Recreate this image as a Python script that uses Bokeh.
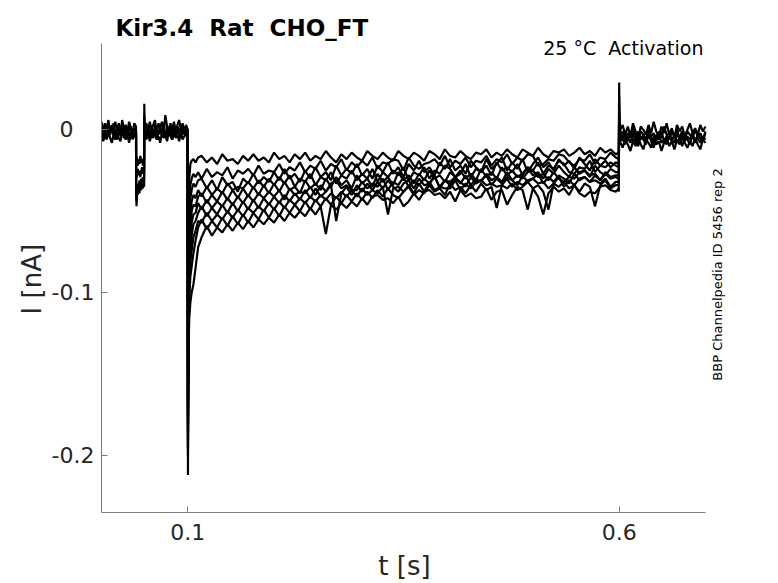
import numpy as np
from bokeh.plotting import figure
from bokeh.models import Range1d, FixedTicker, Label
from bokeh.embed import file_html
from bokeh.resources import INLINE

# ---------------- data (time in s, current in pA; divided by 1000 -> nA) ----------------
t_pre = ([round(0.002 * i, 4) for i in range(20)]
         + [0.0400, 0.0402, 0.0406, 0.0410, 0.0420, 0.0430, 0.0440, 0.0450,
            0.0460, 0.0470, 0.0480, 0.0490, 0.0494, 0.0496, 0.0500]
         + [round(0.052 + 0.002 * i, 4) for i in range(25)])

pre_1 = [5, -1, 4, 0, 6, -2, 3, 1, 5, -1, 4, -2, 6, 0, 3, -1, 5, 1, -2, 4,
         2, -15, -20, -17, -22, -18, -21, -16, -20, -18, -22, -17, -19, 16, 3,
         4, -1, 5, 0, 3, 6, -2, 4, 1, 5, -1, 9, 2, -2, 4, 0, 5, -1, 3, 6, 0, 4, -1, 3, 0]
pre_2 = [-3, 2, -2, 3, -4, 1, -1, 4, -3, 0, 2, -4, 1, -2, 3, -3, 0, 2, -4, 1,
         -1, -25, -30, -27, -24, -28, -25, -29, -26, -23, -27, -24, -26, 9, 0,
         -2, 2, -3, 1, -4, 3, -1, -3, 2, -2, 0, -4, 3, -1, 2, -3, 1, -4, 2, 0, -2, 3, -3, 1, 0]
pre_3 = [1, -4, 0, -5, -1, -3, 2, -4, -1, -6, 0, -3, 1, -5, -2, 0, -4, -1, -6, -2,
         -2, -35, -47, -38, -33, -36, -31, -34, -30, -33, -29, -32, -30, 5, -1,
         -4, 0, -5, -1, -3, 1, -6, -2, 0, -4, -1, -5, -2, 1, -3, -6, -1, -4, 0, -3, -5, -1, -2, -4, 0]
pre_4 = [-2, -7, -3, -6, -1, -5, -8, -3, -6, -2, -5, -7, -1, -4, -6, -3, -8, -2, -5, -4,
         -3, -40, -44, -36, -40, -35, -39, -34, -37, -33, -36, -32, -35, 3, -2,
         -6, -2, -7, -3, -5, -1, -6, -4, -8, -2, -5, -3, -7, -1, -4, -6, -2, -5, -3, -7, -2, -6, -4, -3, 0]

t_step = ([0.1000, 0.1002, 0.1005, 0.1010, 0.1018, 0.1030, 0.1045, 0.1065, 0.1090, 0.1120]
          + [round(0.116 + 0.006 * i, 4) for i in range(81)]
          + [0.5995])

step_1 = [0, -150, -100, -55, -30, -21, -19, -18, -20, -17,
          -16, -20, -17, -21, -15, -19, -18, -21, -16, -19,
          -15, -19, -17, -20, -14, -18, -16, -20, -15, -18,
          -14, -19, -16, -18, -13, -17, -20, -15, -18, -14,
          -17, -19, -13, -16, -18, -14, -17, -19, -13, -16,
          -18, -14, -16, -19, -13, -15, -18, -12, -16, -17,
          -13, -16, -18, -14, -15, -12, -17, -14, -16, -12,
          -15, -17, -12, -14, -16, -11, -15, -17, -13, -14,
          -12, -16, -14, -11, -15, -13, -16, -11, -14, -12, -15,
          -14]
step_2 = [0, -170, -120, -75, -45, -34, -30, -27, -29, -26,
          -30, -24, -29, -26, -28, -23, -30, -25, -27, -24,
          -28, -22, -27, -25, -26, -21, -27, -23, -25, -20,
          -26, -22, -24, -19, -25, -21, -23, -18, -25, -20,
          -23, -19, -22, -17, -24, -20, -21, -18, -19, -25,
          -17, -22, -24, -21, -20, -18, -22, -16, -23, -19,
          -21, -17, -23, -19, -20, -16, -22, -18, -20, -15,
          -21, -17, -19, -15, -16, -22, -21, -18, -19, -15,
          -16, -20, -22, -18, -19, -15, -21, -17, -18, -14, -17,
          -18]
step_3 = [0, -180, -130, -85, -55, -42, -37, -33, -35, -31,
          -30, -36, -31, -37, -29, -34, -32, -38, -30, -33,
          -27, -33, -29, -32, -26, -31, -24, -30, -27, -32,
          -25, -30, -23, -29, -26, -31, -22, -28, -24, -27,
          -21, -28, -24, -30, -22, -26, -20, -27, -23, -29,
          -21, -25, -19, -26, -23, -28, -20, -24, -18, -25,
          -22, -27, -19, -23, -26, -18, -24, -21, -17, -25,
          -20, -24, -18, -26, -21, -17, -23, -20, -25, -18,
          -22, -19, -24, -17, -21, -25, -18, -22, -19, -23, -20,
          -21]
step_4 = [0, -190, -140, -95, -65, -50, -44, -40, -42, -37,
          -41, -35, -40, -36, -39, -33, -37, -35, -36, -32,
          -36, -31, -35, -30, -34, -29, -33, -28, -35, -30,
          -32, -27, -34, -29, -31, -26, -33, -28, -30, -25,
          -31, -27, -30, -24, -32, -26, -29, -25, -28, -23,
          -31, -26, -28, -23, -30, -25, -27, -22, -24, -29,
          -27, -21, -29, -24, -26, -22, -28, -20, -25, -23,
          -26, -21, -28, -23, -25, -20, -27, -22, -24, -19,
          -21, -26, -27, -23, -24, -19, -26, -22, -23, -20, -22,
          -23]
step_5 = [0, -212, -150, -105, -75, -58, -50, -46, -47, -41,
          -39, -45, -40, -44, -38, -43, -37, -42, -36, -41,
          -35, -40, -34, -39, -33, -38, -32, -37, -35, -39,
          -31, -36, -33, -37, -30, -35, -29, -34, -31, -36,
          -28, -33, -30, -35, -27, -32, -29, -34, -26, -31,
          -28, -33, -27, -31, -25, -30, -28, -32, -26, -29,
          -25, -30, -27, -31, -24, -29, -26, -30, -23, -28,
          -25, -29, -27, -23, -28, -26, -30, -24, -27, -22,
          -26, -29, -23, -27, -25, -29, -22, -26, -28, -24, -26,
          -26]
step_6 = [0, -200, -155, -110, -82, -66, -57, -52, -51, -45,
          -49, -43, -48, -44, -47, -42, -46, -41, -45, -40,
          -44, -39, -42, -38, -41, -37, -43, -36, -40, -38,
          -39, -35, -40, -34, -38, -33, -31, -36, -34, -37,
          -37, -32, -36, -33, -35, -30, -37, -32, -34, -29,
          -35, -31, -34, -30, -33, -28, -36, -31, -32, -29,
          -33, -28, -34, -30, -32, -27, -31, -29, -32, -26,
          -31, -28, -30, -26, -25, -29, -27, -31, -26, -30,
          -32, -29, -30, -26, -25, -28, -27, -31, -26, -29, -28,
          -28]
step_7 = [0, -195, -160, -118, -90, -74, -65, -58, -56, -51,
          -47, -53, -48, -52, -46, -51, -45, -50, -44, -49,
          -43, -48, -42, -46, -41, -45, -40, -44, -39, -43,
          -37, -42, -36, -41, -38, -34, -56, -39, -35, -40,
          -34, -38, -33, -37, -32, -36, -31, -35, -38, -33,
          -31, -36, -30, -34, -33, -29, -35, -31, -34, -30,
          -32, -35, -29, -33, -31, -28, -34, -30, -33, -29,
          -31, -34, -28, -32, -30, -27, -33, -29, -32, -28,
          -30, -33, -27, -31, -29, -32, -28, -31, -27, -30, -29,
          -30]
step_8 = [0, -185, -160, -122, -96, -82, -74, -66, -62, -56,
          -57, -51, -56, -52, -55, -50, -54, -49, -53, -48,
          -51, -47, -50, -45, -49, -44, -48, -43, -46, -42,
          -45, -41, -44, -40, -43, -39, -42, -38, -41, -37,
          -41, -36, -40, -37, -39, -35, -52, -36, -35, -38,
          -34, -39, -33, -38, -32, -37, -35, -36, -36, -31,
          -37, -33, -36, -32, -31, -34, -33, -35, -34, -30,
          -35, -32, -34, -31, -30, -33, -32, -36, -33, -29,
          -35, -31, -34, -30, -29, -32, -31, -33, -30, -35, -32,
          -32]
step_9 = [0, -175, -155, -125, -102, -90, -84, -76, -68, -60,
          -55, -61, -56, -60, -54, -59, -53, -58, -52, -57,
          -51, -55, -49, -54, -48, -53, -47, -51, -46, -50,
          -44, -49, -43, -47, -42, -46, -41, -45, -40, -44,
          -39, -43, -38, -42, -37, -41, -36, -40, -42, -38,
          -35, -40, -37, -39, -34, -38, -36, -40, -33, -37,
          -35, -39, -34, -38, -33, -37, -35, -48, -34, -36,
          -33, -37, -35, -32, -36, -34, -38, -49, -33, -35,
          -32, -36, -34, -38, -33, -35, -47, -34, -31, -36, -34,
          -34]
step_10 = [0, -165, -150, -130, -115, -106, -100, -95, -85, -72,
           -66, -59, -65, -60, -63, -58, -62, -57, -61, -56,
           -60, -55, -58, -54, -57, -52, -56, -51, -54, -50,
           -53, -48, -52, -47, -64, -46, -49, -45, -48, -44,
           -47, -42, -46, -41, -40, -43, -42, -45, -41, -47,
           -44, -39, -43, -38, -37, -40, -39, -42, -38, -44,
           -37, -41, -39, -42, -41, -36, -43, -38, -37, -46,
           -40, -35, -37, -49, -36, -41, -52, -39, -35, -38,
           -36, -40, -34, -39, -41, -38, -39, -35, -34, -37, -38,
           -36]

t_post = ([0.5995, 0.6000, 0.6003, 0.6008, 0.6020]
          + [round(0.604 + 0.003 * i, 4) for i in range(33)])

post_1 = [-14, 29, 6, -2, 1,
          3, -3, 2, -4, 4, -1, -5, 2, 0, -3, 3, -2, 5, -1, -4, 2, -2, 4, -3, 1,
          -5, 3, -1, 2, -4, 0, 4, -2, 1, -3, 3, -1, 2]
post_2 = [-21, 20, 2, -4, -3,
          -1, -6, -2, -5, 1, -4, -7, -1, -3, -6, 0, -4, -2, -7, -1, -5, 2, -3, -6, -1,
          -4, 0, -5, -2, -6, -1, -3, -5, 0, -4, -2, -6, -1]
post_3 = [-27, 14, 0, -6, -5,
          -7, -2, -6, -1, -8, -4, -1, -6, -3, -8, -2, -5, -9, -3, -6, -1, -7, -4, -2, -6,
          -8, -3, -5, -1, -7, -4, -6, -2, -8, -3, -5, -7, -2]
post_4 = [-33, 10, -2, -7, -6,
          -3, -9, -5, -8, -2, -7, -10, -4, -6, -9, -3, -7, -11, -5, -2, -8, -6, -9, -4, -7,
          -3, -8, -5, -10, -4, -6, -9, -3, -7, -5, -8, -4, -6]
post_5 = [-38, 7, -3, -9, -8,
          -11, -6, -9, -13, -7, -10, -5, -9, -12, -6, -8, -11, -4, -9, -7, -13, -8, -5, -10, -7,
          -12, -6, -9, -4, -8, -11, -7, -10, -5, -9, -12, -6, -8]

x_ticks = [0.1, 0.6]
x_tick_labels = ["0.1", "0.6"]
y_ticks = [-0.2, -0.1, 0.0]
y_tick_labels = ["-0.2", "-0.1", "0\u00a0\u00a0\u00a0"]

x_axis_span = (0.0, 0.7)
y_axis_span = (-0.235, 0.053)

NB = "\u00a0"
x_label = "t [s]" + NB * 4      # padding keeps the label centred under the drawn axis
y_label = "I [nA]" + NB * 5

title_text = "Kir3.4 \u00a0Rat \u00a0CHO_FT"
condition_text = "25 °C \u00a0Activation"
source_text = "BBP Channelpedia ID 5456 rep 2"

# ---------------- figure ----------------
FONT = "DejaVu Sans"
AX = "#7a7a7a"
TXT = "#262626"

# frame extends right/up past the drawn axes so the side texts are not clipped
p = figure(width=778, height=583, x_range=Range1d(0, 0.7406), y_range=Range1d(-0.235, 0.07695),
           output_backend="svg", toolbar_location=None,
           min_border_left=101, min_border_right=38, min_border_top=4, min_border_bottom=71)
p.title.visible = False
p.outline_line_color = None
p.xgrid.visible = False
p.ygrid.visible = False
p.background_fill_color = "white"
p.border_fill_color = "white"

for ax, ticks, labels, lab, span in ((p.xaxis[0], x_ticks, x_tick_labels, x_label, x_axis_span),
                                     (p.yaxis[0], y_ticks, y_tick_labels, y_label, y_axis_span)):
    ax.bounds = span
    ax.ticker = FixedTicker(ticks=ticks)
    ax.major_label_overrides = {v: s for v, s in zip(ticks, labels)}
    ax.major_tick_in = 6
    ax.major_tick_out = 0
    ax.minor_tick_line_color = None
    ax.axis_line_color = AX
    ax.major_tick_line_color = AX
    ax.major_label_text_font = FONT
    ax.major_label_text_font_size = "22px"
    ax.major_label_text_color = TXT
    ax.axis_label = lab
    ax.axis_label_text_font = FONT
    ax.axis_label_text_font_size = "26px"
    ax.axis_label_text_font_style = "normal"
    ax.axis_label_text_color = TXT

p.xaxis[0].major_label_standoff = 11
p.xaxis[0].axis_label_standoff = 8
p.yaxis[0].major_label_standoff = 7
p.yaxis[0].axis_label_standoff = 2

to_nA = lambda v: np.asarray(v, dtype=float) / 1000.0
LW = 2.2
for tr in (pre_1, pre_2, pre_3, pre_4):
    p.line(t_pre, to_nA(tr), line_color="black", line_width=LW)
for tr in (step_1, step_2, step_3, step_4, step_5, step_6, step_7, step_8, step_9, step_10):
    p.line(t_step, to_nA(tr), line_color="black", line_width=LW)
for tr in (post_1, post_2, post_3, post_4, post_5):
    p.line(t_post, to_nA(tr), line_color="black", line_width=LW)

p.add_layout(Label(x=0.01623, y=0.06282, text=title_text, text_align="left",
                   text_baseline="alphabetic", text_font=FONT, text_font_size="23px",
                   text_font_style="bold", text_color="black"))
p.add_layout(Label(x=0.69768, y=0.05054, text=condition_text, text_align="right",
                   text_baseline="alphabetic", text_font=FONT, text_font_size="19px",
                   text_color="black"))
p.add_layout(Label(x=0.7139, y=-0.08885, text=source_text, angle=np.pi / 2,
                   text_align="center", text_baseline="alphabetic", text_font=FONT,
                   text_font_size="13px", text_color="black"))

open("out.html", "w").write(file_html(p, INLINE))
